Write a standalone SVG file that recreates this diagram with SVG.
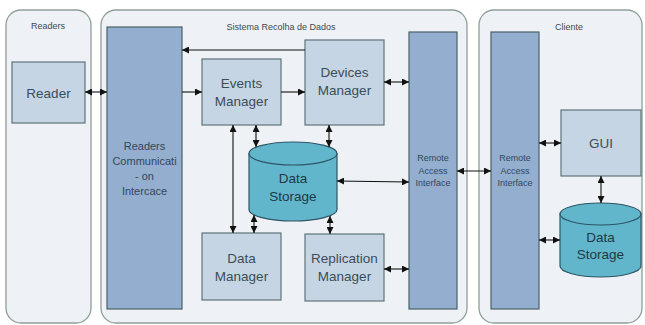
<svg xmlns="http://www.w3.org/2000/svg" width="645" height="325" viewBox="0 0 645 325">
  <style>
    .zone { fill: #eef2f6; stroke: #8e9e96; stroke-width: 1.3; }
    .zone-title { font-family: "Liberation Sans", Arial, sans-serif; font-size: 9px; fill: #3a4a50; text-anchor: middle; }
    .box { fill: #c6d5e3; stroke: #5f7378; stroke-width: 1.2; }
    .iface { fill: #94aecf; stroke: #4a6068; stroke-width: 1.2; }
    .db { fill: #62b6cc; stroke: #2d5566; stroke-width: 1.2; }
    .lbl { font-family: "Liberation Sans", Arial, sans-serif; font-size: 13.5px; fill: #3b4d58; text-anchor: middle; }
    .lbl-db { font-family: "Liberation Sans", Arial, sans-serif; font-size: 13.5px; fill: #1f3845; text-anchor: middle; }
    .lbl-sm { font-family: "Liberation Sans", Arial, sans-serif; font-size: 9px; fill: #33475a; text-anchor: middle; }
    .lbl-md { font-family: "Liberation Sans", Arial, sans-serif; font-size: 11px; fill: #33475a; text-anchor: middle; }
    .wire { stroke: #111; stroke-width: 1.1; fill: none; }
  </style>
  <defs>
    <marker id="tip" markerUnits="userSpaceOnUse" markerWidth="7" markerHeight="7" refX="7" refY="3.5" orient="auto-start-reverse">
      <path d="M0,0 L7,3.5 L0,7 Z" fill="#111"/>
    </marker>
  </defs>

  <rect width="645" height="325" fill="#ffffff"/>

  <!-- zones -->
  <g id="zone-readers">
    <rect class="zone" x="6" y="10" width="85" height="313" rx="15"/>
    <text class="zone-title" x="48" y="29">Readers</text>
  </g>
  <g id="zone-sistema">
    <rect class="zone" x="101" y="10" width="366" height="313" rx="15"/>
    <text class="zone-title" x="281" y="30">Sistema Recolha de Dados</text>
  </g>
  <g id="zone-cliente">
    <rect class="zone" x="479" y="10" width="163" height="313" rx="15"/>
    <text class="zone-title" x="569" y="30">Cliente</text>
  </g>

  <!-- nodes -->
  <g id="reader">
    <rect class="box" x="12" y="62" width="73" height="61"/>
    <text class="lbl" x="48.5" y="97.5">Reader</text>
  </g>
  <g id="readers-comm-interface">
    <rect class="iface" x="107" y="27" width="75" height="282"/>
    <text class="lbl-md" x="144.5" y="150">Readers</text>
    <text class="lbl-md" x="144.5" y="165">Communicati</text>
    <text class="lbl-md" x="144.5" y="180">- on</text>
    <text class="lbl-md" x="144.5" y="195">Intercace</text>
  </g>
  <g id="events-manager">
    <rect class="box" x="202" y="59" width="79" height="66"/>
    <text class="lbl" x="241.5" y="88">Events</text>
    <text class="lbl" x="241.5" y="106">Manager</text>
  </g>
  <g id="devices-manager">
    <rect class="box" x="305" y="40" width="79" height="85"/>
    <text class="lbl" x="344.5" y="77">Devices</text>
    <text class="lbl" x="344.5" y="95">Manager</text>
  </g>
  <g id="data-storage">
    <path class="db" d="M249,153.5 V209.5 A44,11.5 0 0 0 337,209.5 V153.5 Z"/>
    <ellipse class="db" cx="293" cy="153.5" rx="44" ry="11.5"/>
    <text class="lbl-db" x="293" y="183">Data</text>
    <text class="lbl-db" x="293" y="201">Storage</text>
  </g>
  <g id="data-manager">
    <rect class="box" x="202" y="233" width="79" height="67"/>
    <text class="lbl" x="241.5" y="263">Data</text>
    <text class="lbl" x="241.5" y="281">Manager</text>
  </g>
  <g id="replication-manager">
    <rect class="box" x="305" y="234" width="79" height="67"/>
    <text class="lbl" x="344.5" y="263">Replication</text>
    <text class="lbl" x="344.5" y="281">Manager</text>
  </g>
  <g id="remote-access-server">
    <rect class="iface" x="409" y="32" width="48" height="277"/>
    <text class="lbl-sm" x="433" y="161">Remote</text>
    <text class="lbl-sm" x="433" y="173.5">Access</text>
    <text class="lbl-sm" x="433" y="186">Interface</text>
  </g>
  <g id="remote-access-client">
    <rect class="iface" x="491" y="32" width="48" height="277"/>
    <text class="lbl-sm" x="515" y="161">Remote</text>
    <text class="lbl-sm" x="515" y="173.5">Access</text>
    <text class="lbl-sm" x="515" y="186">Interface</text>
  </g>
  <g id="gui">
    <rect class="box" x="561" y="110" width="80" height="66"/>
    <text class="lbl" x="601" y="148">GUI</text>
  </g>
  <g id="client-data-storage">
    <path class="db" d="M560,214 V266 A40.5,11 0 0 0 641,266 V214 Z"/>
    <ellipse class="db" cx="600.5" cy="214" rx="40.5" ry="11"/>
    <text class="lbl-db" x="600.5" y="242">Data</text>
    <text class="lbl-db" x="600.5" y="259">Storage</text>
  </g>

  <!-- connectors -->
  <g id="connectors">
    <line class="wire" x1="85" y1="92" x2="107" y2="92" marker-start="url(#tip)" marker-end="url(#tip)"/>
    <line class="wire" x1="305" y1="50" x2="182" y2="50" marker-end="url(#tip)"/>
    <line class="wire" x1="182" y1="92" x2="202" y2="92" marker-end="url(#tip)"/>
    <line class="wire" x1="281" y1="92" x2="305" y2="92" marker-end="url(#tip)"/>
    <line class="wire" x1="384" y1="82" x2="409" y2="82" marker-start="url(#tip)" marker-end="url(#tip)"/>
    <line class="wire" x1="233" y1="125" x2="233" y2="233" marker-start="url(#tip)" marker-end="url(#tip)"/>
    <line class="wire" x1="256" y1="125" x2="256" y2="147" marker-start="url(#tip)" marker-end="url(#tip)"/>
    <line class="wire" x1="329" y1="125" x2="329" y2="147" marker-start="url(#tip)" marker-end="url(#tip)"/>
    <line class="wire" x1="254" y1="215" x2="254" y2="233" marker-start="url(#tip)" marker-end="url(#tip)"/>
    <line class="wire" x1="330" y1="216" x2="330" y2="234" marker-start="url(#tip)" marker-end="url(#tip)"/>
    <line class="wire" x1="337" y1="181" x2="409" y2="182" marker-start="url(#tip)" marker-end="url(#tip)"/>
    <line class="wire" x1="384" y1="269" x2="409" y2="269" marker-start="url(#tip)" marker-end="url(#tip)"/>
    <line class="wire" x1="457" y1="171" x2="491" y2="171" marker-start="url(#tip)" marker-end="url(#tip)"/>
    <line class="wire" x1="539" y1="143" x2="561" y2="143" marker-start="url(#tip)" marker-end="url(#tip)"/>
    <line class="wire" x1="601" y1="176" x2="601" y2="203" marker-start="url(#tip)" marker-end="url(#tip)"/>
    <line class="wire" x1="539" y1="240" x2="560" y2="240" marker-start="url(#tip)" marker-end="url(#tip)"/>
  </g>
</svg>
